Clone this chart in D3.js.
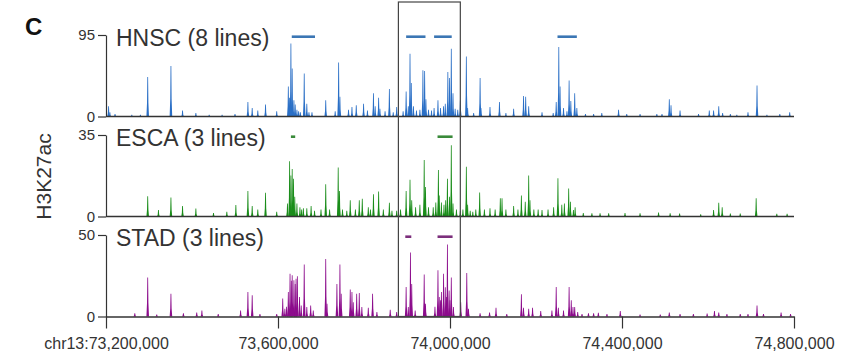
<!DOCTYPE html>
<meta charset="utf-8">
<style>
body {
  margin: 0;
  background: #fff;
  font-family: "Liberation Sans", Arial, Helvetica, sans-serif;
}
text {
  fill: #333;
}
</style>
<body>
<script src="https://cdn.jsdelivr.net/npm/d3@7"></script>
<script>

var width = 855,
    height = 363;

// genomic window on chr13, in kb
var xStart = 73200, xEnd = 74800;
var xTicks = [73200, 73600, 74000, 74400, 74800];
var xTickLabels = ["chr13:73,200,000", "73,600,000", "74,000,000", "74,400,000", "74,800,000"];

var trackNames = ["HNSC (8 lines)", "ESCA (3 lines)", "STAD (3 lines)"];
var trackMax = [95, 35, 50];
var trackColors = ["#2a6fc6", "#1a8d1a", "#8c0c8c"];
var regionColors = ["#3b76b4", "#3a8a3a", "#7c2f7c"];

// H3K27ac peaks: [position kb, signal]
var hnsc = [
  [73206,12],[73209,5],[73221,3],[73260,2],[73280,2],[73297,46],[73351,59],[73378,7],[73409,4],[73440,2],[73470,2],[73500,3],
  [73530,17],[73540,10],[73553,7],[73571,14],[73597,6],
  [73624,35],[73627,22],[73630,85],[73633,56],[73637,19],[73640,14],[73644,8],[73648,6],[73652,5],[73661,50],[73667,15],[73672,5],[73679,5],
  [73711,19],[73733,6],[73741,63],[73744,23],[73764,8],[73772,11],[73782,13],[73799,15],[73808,7],[73822,27],[73826,12],[73834,22],[73837,9],
  [73849,6],[73859,32],[73868,5],[73876,11],
  [73891,6],[73898,29],[73903,12],[73907,73],[73910,39],[73915,12],[73922,7],[73930,8],[73937,54],[73941,53],[73944,20],[73950,8],[73957,7],
  [73963,10],[73972,19],[73978,10],[73985,12],[73989,15],[73995,52],[73999,45],[74003,79],[74007,27],[74012,9],[74018,8],
  [74024,19],[74038,70],[74041,10],[74055,4],[74070,45],[74072,10],[74093,11],[74115,17],[74130,4],[74148,9],[74171,24],[74176,23],[74183,12],
  [74214,5],[74240,4],
  [74247,17],[74253,81],[74256,35],[74264,10],[74272,6],[74277,42],[74281,18],[74290,27],[74295,10],
  [74315,3],[74334,3],[74353,4],[74392,8],[74411,3],[74442,3],[74481,3],[74493,3],[74510,20],[74514,13],[74535,7],[74578,3],
  [74603,7],[74613,7],[74625,12],[74634,4],[74652,3],[74667,2],[74693,5],[74714,36],[74737,2],[74767,3],[74790,5]
];

var esca = [
  [73297,8.7],[73322,2.8],[73351,8.2],[73378,4.5],[73409,3.4],[73450,1.5],[73481,2],[73502,4.9],[73530,10.9],[73540,4.5],[73553,3],[73571,10.2],[73597,2],
  [73622,5.6],[73627,23.7],[73630,17.6],[73633,20.4],[73636,16.2],[73639,8.5],[73644,5.6],[73651,4],[73655,3],[73659,3.5],[73667,3.5],[73677,4.5],
  [73685,2.5],[73700,3],[73711,13.8],[73720,3],[73740,21],[73743,11],[73750,3],[73760,2.5],[73768,7],[73780,3],[73789,7],[73796,7.6],[73810,4],
  [73815,3],[73822,9.6],[73834,10.7],[73845,3],[73859,5.9],[73865,2.5],[73876,2.5],[73885,3],
  [73898,10.9],[73907,15.8],[73911,7],[73920,4],[73930,5],[73940,24.3],[73943,12.7],[73950,4],[73961,4],[73967,6],[73973,20],[73975,9],[73980,6],
  [73986,5],[73990,7],[73994,16.2],[73999,8.5],[74003,30.6],[74007,5.6],[74015,3],
  [74024,2.5],[74030,3],[74038,21.4],[74041,5],[74047,2.5],[74053,2],[74060,3],[74069,10.3],[74080,3],[74093,3.5],[74105,3],[74117,7.8],[74121,7.8],
  [74130,3],[74148,4.5],[74158,3],[74166,9],[74175,6.3],[74183,17.6],[74186,7],[74195,3],[74205,3],[74214,2.8],[74228,3],
  [74241,4],[74251,16.4],[74260,5],[74266,5.6],[74276,12],[74280,6.3],[74287,2.8],[74291,4],
  [74310,1.5],[74330,1.4],[74349,1.4],[74369,1.4],[74407,1.5],[74442,1.4],[74485,1.7],[74512,1.4],[74534,1.3],[74583,1],
  [74613,2.8],[74625,5.9],[74633,4],[74652,1.3],[74675,1.3],[74712,7.8],[74760,1.2],[74784,1.2]
];

var stad = [
  [73267,2],[73297,23.9],[73318,1.2],[73351,14],[73380,2],[73411,2.5],[73423,3.7],[73461,1.6],[73513,3.7],[73530,15],[73540,13],[73558,1.6],[73597,1.6],
  [73611,11],[73616,4.7],[73620,6],[73624,15],[73628,26.3],[73631,22],[73633,25.3],[73637,22.2],[73640,20],[73642,23.2],[73645,24.7],[73650,12],
  [73654,6.8],[73661,31.9],[73667,5.8],[73676,6.8],[73682,3.7],
  [73711,35.2],[73714,7.8],[73737,20],[73744,31.9],[73747,14],[73768,16.5],[73772,15],[73775,8.8],[73783,14],[73789,14.4],[73795,5.8],[73810,5.3],
  [73820,14],[73830,2.7],[73861,4.1],[73876,2.7],
  [73898,18.1],[73903,5.8],[73908,39.3],[73911,20],[73919,3.7],[73940,25.7],[73943,7.8],[73965,6],[73972,28.4],[73975,12],[73978,10],[73980,15],
  [73985,26.3],[73989,18],[73992,12],[73994,44.2],[73998,16],[74000,10],[74003,23.9],[74008,5.8],
  [74025,8.8],[74039,26.7],[74043,4.7],[74070,2],[74092,2.5],[74107,5.3],[74132,1.6],[74166,13.6],[74171,5.3],[74183,4.7],[74192,5.3],[74211,3.3],
  [74237,3.7],[74247,18.1],[74252,5.3],[74264,3.7],[74277,18.1],[74282,9.9],[74286,5.8],[74290,5.8],[74297,2.7],
  [74307,1.6],[74322,2],[74334,2],[74345,2.3],[74365,1.6],[74396,3.3],[74442,1.2],[74489,1.2],[74510,2.5],[74535,1.6],[74566,1.6],[74598,1.8],
  [74615,3.3],[74625,2.5],[74644,1.6],[74675,1.6],[74693,1.6],[74714,6.8],[74729,1.6],[74770,2.5],[74792,1.6]
];

// called regions drawn above each track: [start kb, end kb]
var hnscRegions = [[73632, 73686], [73898, 73943], [73963, 74004], [74250, 74295]];
var escaRegions = [[73630, 73640], [73971, 74006]];
var stadRegions = [[73896, 73910], [73971, 74006]];

// highlighted window
var boxRegion = [73880, 74024];

var tracks = [hnsc, esca, stad];
var regions = [hnscRegions, escaRegions, stadRegions];

var trackTop = 35,
    trackStep = 100,
    trackH = 81.5;

var x = d3.scaleLinear()
    .domain([xStart, xEnd])
    .range([106, 794]);

var svg = d3.select("body").append("svg")
    .attr("width", width)
    .attr("height", height);

// one peak glyph, a narrow spike with a flat top
function spike(y) {
  return function(d) {
    var top = y(d[1]), base = y(0);
    return "M" + x(d[0] - 3) + "," + base +
      "L" + x(d[0] - 1.6) + "," + y(d[1] * 0.35) +
      "L" + x(d[0] - 0.9) + "," + top +
      "L" + x(d[0] + 0.9) + "," + top +
      "L" + x(d[0] + 1.6) + "," + y(d[1] * 0.35) +
      "L" + x(d[0] + 3) + "," + base + "Z";
  };
}

tracks.forEach(function(data, i) {

  var y = d3.scaleLinear()
      .domain([0, trackMax[i]])
      .range([trackH, 0]);

  var g = svg.append("g")
      .attr("transform", "translate(0," + (trackTop + i * trackStep) + ")");

  g.selectAll(".peak")
    .data(data)
    .enter().append("path")
      .attr("class", "peak")
      .attr("d", spike(y))
      .style("fill", trackColors[i]);

  g.selectAll(".region")
    .data(regions[i])
    .enter().append("line")
      .attr("class", "region")
      .attr("x1", function(d) { return x(d[0]); })
      .attr("x2", function(d) { return x(d[1]); })
      .attr("y1", 1.7)
      .attr("y2", 1.7)
      .style("stroke", regionColors[i])
      .style("stroke-width", 2.6);

  var yAxis = g.append("g")
      .attr("transform", "translate(" + x(xStart) + ",0)")
      .call(d3.axisLeft(y).tickValues([0, trackMax[i]]).tickSize(8).tickSizeOuter(0).tickPadding(3));

  yAxis.attr("font-family", null).attr("font-size", 15);
  yAxis.selectAll("path, line").style("stroke", "#333").style("stroke-width", 1.2);

  if (i < 2) {
    g.append("line")
      .attr("x1", x(xStart))
      .attr("x2", x(xEnd))
      .attr("y1", y(0))
      .attr("y2", y(0))
      .style("stroke", "#333")
      .style("stroke-width", 1.6);
  } else {
    var xAxis = g.append("g")
        .attr("transform", "translate(0," + y(0) + ")")
        .call(d3.axisBottom(x).tickValues(xTicks)
          .tickFormat(function(d, j) { return xTickLabels[j]; })
          .tickSize(12).tickSizeOuter(0).tickPadding(9));
    xAxis.attr("font-family", null).attr("font-size", 16);
    xAxis.select(".domain").style("stroke", "#333").style("stroke-width", 1.6);
    xAxis.selectAll(".tick line").style("stroke", "#333").style("stroke-width", 1.2);
  }

  g.append("text")
    .attr("x", 116)
    .attr("y", 11)
    .style("font-size", "23px")
    .text(trackNames[i]);
});

// box around the window of interest
svg.append("rect")
  .attr("x", x(boxRegion[0]))
  .attr("y", 2)
  .attr("width", x(boxRegion[1]) - x(boxRegion[0]))
  .attr("height", trackTop + 2 * trackStep + trackH - 2)
  .style("fill", "none")
  .style("stroke", "#444")
  .style("stroke-width", 1.2);

svg.append("text")
  .attr("transform", "translate(51," + 176.5 + ")rotate(-90)")
  .attr("text-anchor", "middle")
  .style("font-size", "21px")
  .text("H3K27ac");

svg.append("text")
  .attr("x", 25)
  .attr("y", 35)
  .style("font-size", "24px")
  .style("font-weight", "bold")
  .style("fill", "#111")
  .text("C");

</script>
